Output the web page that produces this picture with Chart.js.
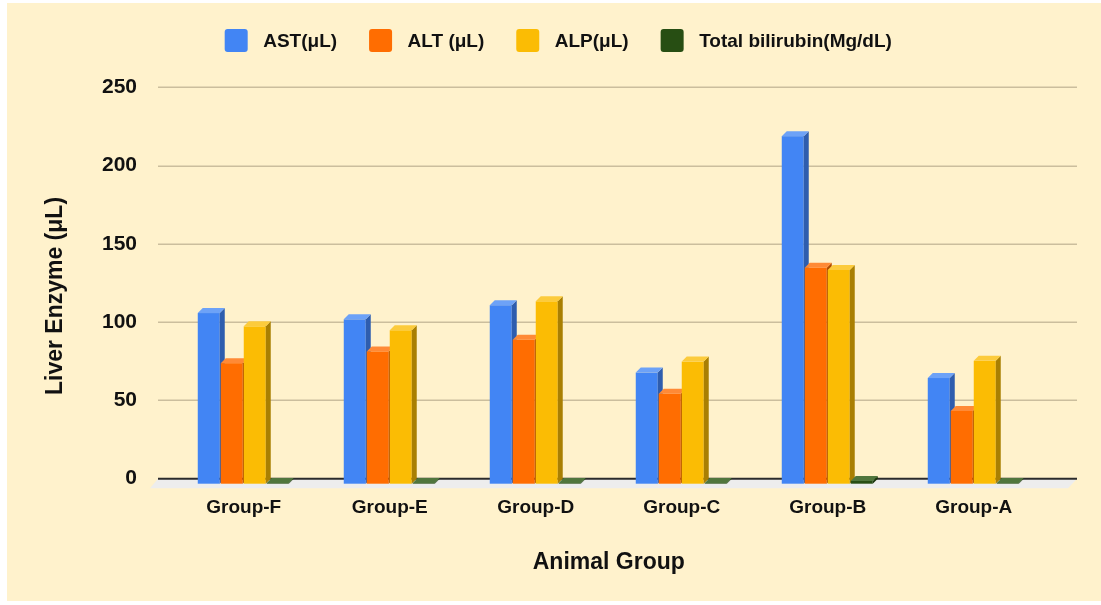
<!DOCTYPE html>
<html>
<head>
<meta charset="utf-8">
<title>Liver Enzyme</title>
<script src="https://cdn.jsdelivr.net/npm/chart.js@4.4.1/dist/chart.umd.min.js"></script>
<style>
  body { margin: 0; background: #fff; }
  canvas { display: block; }
</style>
</head>
<body>
<canvas id="chart" width="1101" height="605"></canvas>
<script>
// Datos
const groups = ['Group-F', 'Group-E', 'Group-D', 'Group-C', 'Group-B', 'Group-A'];
const seriesNames = ['AST(μL)', 'ALT (μL)', 'ALP(μL)', 'Total bilirubin(Mg/dL)'];
const astValues = [109, 105, 114, 71, 222, 67.5];
const altValues = [77, 84.5, 92, 57.5, 138, 46.5];
const alpValues = [100.5, 98, 116.5, 78, 136.5, 78.5];
const bilirubinValues = [0.4, 0.4, 0.4, 0.4, 1.8, 0.4];
const yTicks = [0, 50, 100, 150, 200, 250];
const yTitle = 'Liver Enzyme (μL)';

// Colores: cara frontal, superior y lateral
const seriesColors = [
    { front: '#4285F4', top: '#6DA2F7', side: '#2E5DAE' },
    { front: '#FF6D01', top: '#FF8A36', side: '#B04B00' },
    { front: '#FBBC04', top: '#FCCB3C', side: '#A97F02' },
    { front: '#274E13', top: '#50763D', side: '#1A360C' }
];

const FONT = '"Liberation Sans", Arial, sans-serif';
const DX = 5;   // profundidad horizontal de las barras
const DY = 5;   // profundidad vertical

function drawBar(ctx, bar, c) {
    const base = bar.base;
    const y = Math.min(bar.y, base);
    const L = bar.x - bar.width / 2;
    const R = L + bar.width - 1;

    // frente
    ctx.fillStyle = c.front;
    ctx.fillRect(L, y + DY, R - L, base - y);

    // lateral
    ctx.fillStyle = c.side;
    ctx.beginPath();
    ctx.moveTo(R, y + DY);
    ctx.lineTo(R + DX, y);
    ctx.lineTo(R + DX, base);
    ctx.lineTo(R, base + DY);
    ctx.closePath();
    ctx.fill();

    // tapa
    ctx.fillStyle = c.top;
    ctx.beginPath();
    ctx.moveTo(L, y + DY);
    ctx.lineTo(R, y + DY);
    ctx.lineTo(R + DX, y);
    ctx.lineTo(L + DX, y);
    ctx.closePath();
    ctx.fill();
}

// Fondo crema
const backgroundPlugin = {
    id: 'background',
    beforeDraw(chart) {
        const ctx = chart.ctx;
        ctx.save();
        ctx.fillStyle = '#ffffff';
        ctx.fillRect(0, 0, chart.width, chart.height);
        ctx.fillStyle = '#FFF2CC';
        ctx.fillRect(7, 3, chart.width - 7, 598);
        ctx.restore();
    }
};

// Pared con líneas, suelo y barras 3D
const bars3dPlugin = {
    id: 'bars3d',
    beforeDatasetsDraw(chart) {
        const ctx = chart.ctx;
        const area = chart.chartArea;
        const yScale = chart.scales.y;
        const x0 = area.left - 12.75;
        const x1 = area.right + 30.25;
        const zero = yScale.getPixelForValue(0);

        ctx.save();
        ctx.strokeStyle = '#CBBE9D';
        ctx.lineWidth = 1.5;
        yScale.ticks.forEach(t => {
            if (t.value === 0) return;
            const py = Math.round(yScale.getPixelForValue(t.value)) + 0.25;
            ctx.beginPath();
            ctx.moveTo(x0, py);
            ctx.lineTo(x1, py);
            ctx.stroke();
        });

        // suelo
        ctx.fillStyle = '#EDEDED';
        ctx.beginPath();
        ctx.moveTo(x0, zero);
        ctx.lineTo(x1, zero);
        ctx.lineTo(x1 - 9, zero + 9.5);
        ctx.lineTo(x0 - 8, zero + 9.5);
        ctx.closePath();
        ctx.fill();

        ctx.strokeStyle = '#2b2b2b';
        ctx.lineWidth = 2;
        ctx.beginPath();
        ctx.moveTo(x0, zero);
        ctx.lineTo(x1, zero);
        ctx.stroke();

        const metas = chart.data.datasets.map((ds, i) => chart.getDatasetMeta(i));
        groups.forEach((g, i) => {
            metas.forEach((meta, d) => {
                drawBar(ctx, meta.data[i], seriesColors[d]);
            });
        });
        ctx.restore();
        return false;
    }
};

// Leyenda propia arriba y título del eje Y (un poco más abajo que el centro)
const legendPlugin = {
    id: 'legend3d',
    afterDraw(chart) {
        const ctx = chart.ctx;
        const box = 23, gap = 15.5, spacing = 32, centerX = 558.3, top = 29;
        ctx.save();
        ctx.font = 'bold 19px ' + FONT;
        const widths = seriesNames.map(n => ctx.measureText(n).width);
        const total = widths.reduce((a, b) => a + b, 0) + seriesNames.length * (box + gap) + (seriesNames.length - 1) * spacing;
        let x = centerX - total / 2;
        ctx.textBaseline = 'middle';
        ctx.textAlign = 'left';
        seriesNames.forEach((n, i) => {
            ctx.fillStyle = seriesColors[i].front;
            ctx.beginPath();
            ctx.roundRect(x, top, box, box, 3);
            ctx.fill();
            ctx.fillStyle = '#111';
            ctx.fillText(n, x + box + gap, top + box / 2 + 1);
            x += box + gap + widths[i] + spacing;
        });

        const area = chart.chartArea;
        ctx.translate(56, (area.top + area.bottom) / 2 + 13);
        ctx.rotate(-Math.PI / 2);
        ctx.font = 'bold 23px ' + FONT;
        ctx.textAlign = 'center';
        ctx.fillStyle = '#111';
        ctx.fillText(yTitle, 0, 0);
        ctx.restore();
    }
};

const ctx = document.getElementById('chart').getContext('2d');
const chart = new Chart(ctx, {
    type: 'bar',
    data: {
        labels: groups,
        datasets: [
            { label: seriesNames[0], data: astValues, backgroundColor: seriesColors[0].front },
            { label: seriesNames[1], data: altValues, backgroundColor: seriesColors[1].front },
            { label: seriesNames[2], data: alpValues, backgroundColor: seriesColors[2].front },
            { label: seriesNames[3], data: bilirubinValues, backgroundColor: seriesColors[3].front }
        ]
    },
    options: {
        responsive: false,
        animation: false,
        devicePixelRatio: 1,
        layout: { padding: { left: 10, right: 54.25, top: 87.3, bottom: 0 } },
        datasets: { bar: { categoryPercentage: 0.63, barPercentage: 1 } },
        plugins: {
            legend: { display: false },
            tooltip: { enabled: false }
        },
        scales: {
            x: {
                grid: { display: false, drawTicks: false },
                border: { display: false },
                ticks: { color: '#111', padding: 17.7, font: { family: FONT, size: 19, weight: 'bold' } },
                title: {
                    display: true,
                    text: 'Animal Group',
                    color: '#111',
                    font: { family: FONT, size: 23, weight: 'bold' },
                    padding: { top: 0, bottom: 28.2 }
                },
                afterFit: (scale) => { scale.height = 126.3; }
            },
            y: {
                min: 0,
                max: 250,
                grid: { display: false, drawTicks: false },
                border: { display: false },
                afterBuildTicks: (scale) => { scale.ticks = yTicks.map(v => ({ value: v })); },
                ticks: { color: '#111', padding: 33.75, font: { family: FONT, size: 21, weight: 'bold' } },
                title: { display: false },
                afterFit: (scale) => { scale.width = 160.75; }
            }
        }
    },
    plugins: [backgroundPlugin, bars3dPlugin, legendPlugin]
});
</script>
</body>
</html>
